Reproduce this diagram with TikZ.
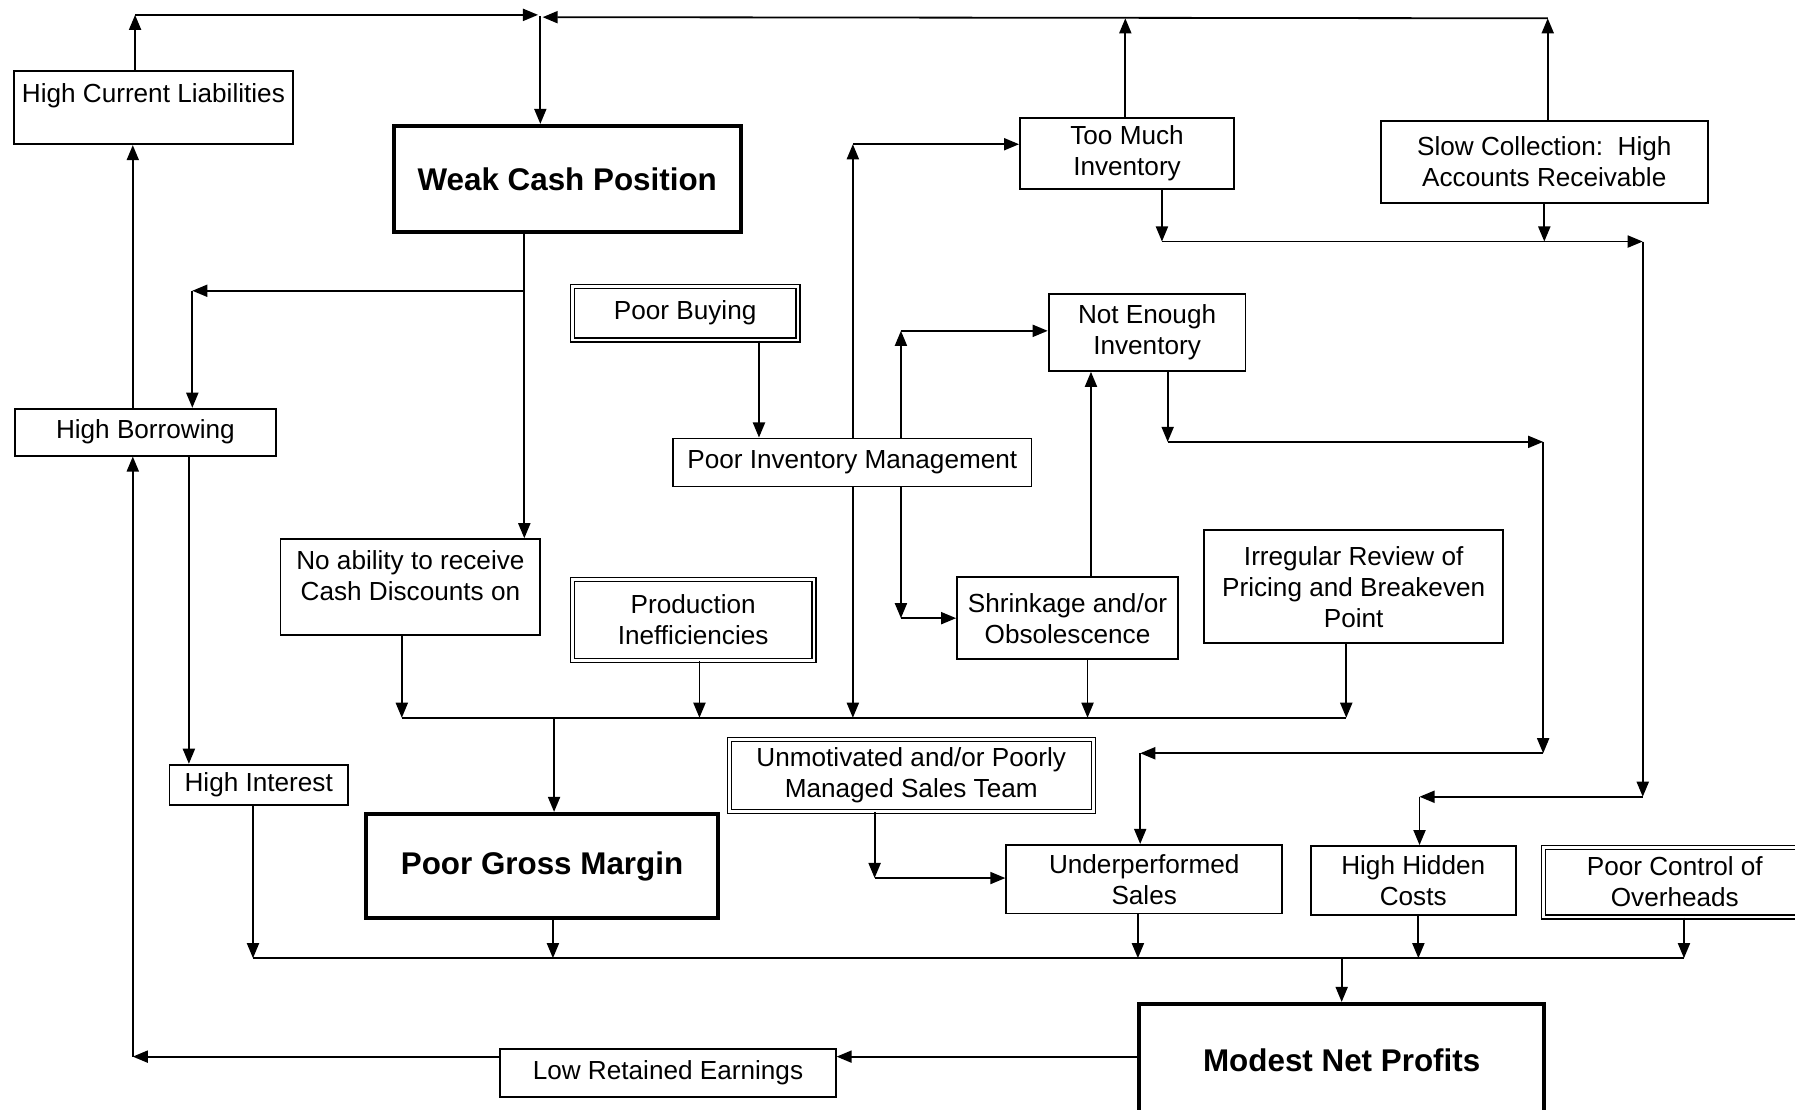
\documentclass[tikz,border=0pt]{standalone}
\usepackage{fontspec}
\setmainfont{Liberation Sans}
\usetikzlibrary{arrows.meta}
\begin{document}
\begin{tikzpicture}[x=0.02cm,y=-0.02cm,
  bx/.style n args={4}{minimum width={(#3-#1)*0.02cm}, minimum height={(#4-#2)*0.02cm}, at={({(#1+#3)/2},{(#2+#4)/2})}},
  box/.style={draw, line width=0.9pt, inner sep=0pt, align=center, font=\fontsize{13}{15.4}\selectfont},
  dbox/.style={box, double, double distance=1.4pt, line width=0.6pt},
  tbox/.style={box, line width=2pt, font=\fontsize{15.6}{18}\selectfont\bfseries},
  conn/.style={line width=0.9pt},
  arr/.style={conn, -{Triangle[length=7.5pt,width=6pt]}},
]
\useasboundingbox (0,0) rectangle (1568,969);

% ---------- boxes ----------
\node[box, bx={12}{62}{256}{126}] (hcl) {High Current Liabilities\\[-5.6pt]\strut};
\node[tbox, bx={344}{110}{647}{203}] (wcp) {Weak Cash Position};
\node[dbox, bx={500}{250}{697}{297}] (pb) {Poor Buying};
\node[box, bx={13}{357}{241}{398}] (hb) {High Borrowing};
\node[box, bx={588}{383}{901}{425}] (pim) {Poor Inventory Management};
\node[box, bx={891}{103}{1078}{165}] (tmi) {Too Much\\Inventory};
\node[box, bx={1206}{106}{1492}{177}] (sc) {Slow Collection:\ \ High\\Accounts Receivable};
\node[box, bx={916}{257}{1088}{324}] (nei) {Not Enough\\Inventory};
\node[box, bx={245}{471}{472}{555}] (nab) {No ability to receive\\Cash Discounts on\\[-8pt]\strut};
\node[dbox, bx={500}{506}{711}{577}] (prod) {Production\\Inefficiencies};
\node[box, bx={836}{504}{1029}{576}] (shr) {Shrinkage and/or\\Obsolescence};
\node[box, bx={1052}{463}{1313}{562}] (irr) {Irregular Review of\\Pricing and Breakeven\\Point};
\node[dbox, bx={637}{646}{955}{709}] (unm) {Unmotivated and/or Poorly\\Managed Sales Team};
\node[box, bx={148}{668}{304}{703}] (hi) {High Interest};
\node[tbox, bx={320}{711}{627}{802}] (pgm) {Poor Gross Margin};
\node[box, bx={879}{738}{1120}{798}] (us) {Underperformed\\Sales};
\node[box, bx={1145}{739}{1324}{799}] (hhc) {High Hidden\\Costs};
\node[dbox, bx={1348}{740}{1578}{801}] (pco) {Poor Control of\\Overheads};
\node[tbox, bx={995}{877}{1349}{975}] (mnp) {Modest Net Profits};
\node[box, bx={437}{916}{730}{958}] (lre) {Low Retained Earnings};

% ---------- routing points ----------
\coordinate (tl) at (118,13);
\coordinate (tjL) at (470,13);
\coordinate (tj) at (472,14);
\coordinate (tjR) at (474,15);
\coordinate (ttm) at (983,16);
\coordinate (tsc) at (1352,16);
\coordinate (wb) at (458,254);
\coordinate (hbc) at (168,254);
\coordinate (lx) at (116,923);
\coordinate (hx) at (165,0);
\coordinate (pbx) at (663,0);
\coordinate (p1) at (745,126);
\coordinate (p2) at (787,289);
\coordinate (p3) at (787,540);
\coordinate (sx) at (953,0);
\coordinate (t1) at (1015,211);
\coordinate (s1) at (1349,211);
\coordinate (r1) at (1435,211);
\coordinate (r2) at (1435,696);
\coordinate (h1) at (1240,696);
\coordinate (n1) at (1020,386);
\coordinate (n2) at (1348,386);
\coordinate (n3) at (1348,658);
\coordinate (n4) at (996,658);
\coordinate (u1) at (764,767);
% collector 1
\coordinate (k1) at (351,627);
\coordinate (kpr) at (611,627);
\coordinate (kpi) at (745,627);
\coordinate (ksh) at (950,627);
\coordinate (k2) at (1176,627);
\coordinate (kg) at (484,627);
% collector 2
\coordinate (m1) at (221,837);
\coordinate (mg) at (483,837);
\coordinate (mu) at (994,837);
\coordinate (mh) at (1239,837);
\coordinate (m2) at (1471,837);
\coordinate (mm) at (1172,837);

% ---------- connectors ----------
% top loop
\draw[arr] (hcl.north -| tl) -- (tl);
\draw[arr] (tl) -- (tjL);
\draw[arr] (tsc) -- (tjR);
\draw[arr] (tmi.north -| ttm) -- (ttm);
\draw[arr] (sc.north -| tsc) -- (tsc);
\draw[arr] (tj) -- (wcp.north -| tj);
% weak cash position outputs
\draw[arr] (wcp.south -| wb) -- (nab.north -| wb);
\draw[arr] (wb) -- (hbc);
\draw[arr] (hbc) -- (hb.north -| hbc);
% borrowing
\draw[arr] (hb.north -| lx) -- (hcl.south -| lx);
\draw[arr] (hb.south -| hx) -- (hi.north -| hx);
% retained earnings loop
\draw[arr] (mnp.west |- lx) -- (lre.east |- lx);
\draw[arr] (lre.west |- lx) -- (lx);
\draw[arr] (lx) -- (hb.south -| lx);
% inventory
\draw[arr] (pb.south -| pbx) -- (pim.north -| pbx);
\draw[arr] (pim.north -| p1) -- (p1);
\draw[arr] (p1) -- (tmi.west |- p1);
\draw[arr] (pim.north -| p2) -- (p2);
\draw[arr] (p2) -- (nei.west |- p2);
\draw[arr] (pim.south -| p2) -- (p3);
\draw[arr] (p3) -- (shr.west |- p3);
\draw[arr] (shr.north -| sx) -- (nei.south -| sx);
% too much inventory / slow collection -> hidden costs
\draw[arr] (tmi.south -| t1) -- (t1);
\draw[arr] (sc.south -| s1) -- (s1);
\draw[arr] (t1) -- (r1);
\draw[arr] (r1) -- (r2);
\draw[arr] (r2) -- (h1);
\draw[arr] (h1) -- (hhc.north -| h1);
% not enough inventory -> sales
\draw[arr] (nei.south -| n1) -- (n1);
\draw[arr] (n1) -- (n2);
\draw[arr] (n2) -- (n3);
\draw[arr] (n3) -- (n4);
\draw[arr] (n4) -- (us.north -| n4);
% sales team
\draw[arr] (unm.south -| u1) -- (u1);
\draw[arr] (u1) -- (us.west |- u1);
% collector 1 -> gross margin
\draw[conn] (k1) -- (k2);
\draw[arr] (nab.south -| k1) -- (k1);
\draw[arr] (prod.south -| kpr) -- (kpr);
\draw[arr] (pim.south -| kpi) -- (kpi);
\draw[arr] (shr.south -| ksh) -- (ksh);
\draw[arr] (irr.south -| k2) -- (k2);
\draw[arr] (kg) -- (pgm.north -| kg);
% collector 2 -> net profits
\draw[conn] (m1) -- (m2);
\draw[arr] (hi.south -| m1) -- (m1);
\draw[arr] (pgm.south -| mg) -- (mg);
\draw[arr] (us.south -| mu) -- (mu);
\draw[arr] (hhc.south -| mh) -- (mh);
\draw[arr] (pco.south -| m2) -- (m2);
\draw[arr] (mm) -- (mnp.north -| mm);
\end{tikzpicture}
\end{document}
